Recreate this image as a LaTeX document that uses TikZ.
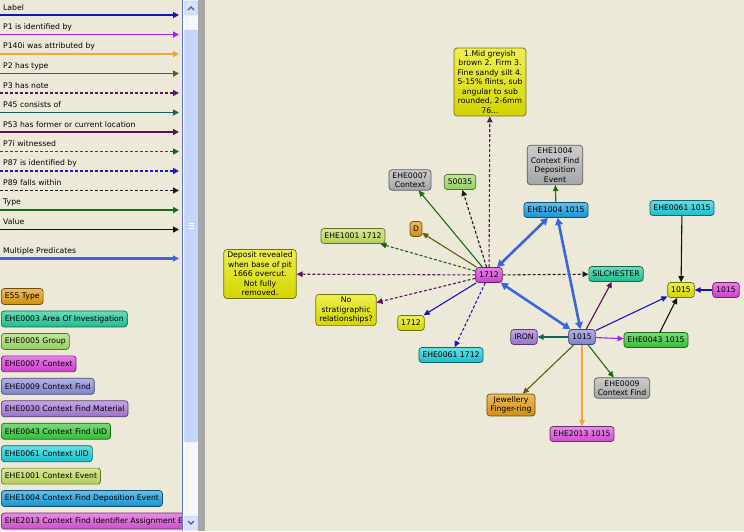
\documentclass[tikz,border=0pt]{standalone}
\usepackage{fontspec}
\setmainfont{DejaVu Sans}
\usepackage{tikz}
\usetikzlibrary{arrows.meta}

\definecolor{canvas}{HTML}{ECE9D8}
\definecolor{cStrip}{HTML}{A6A6A6}
\definecolor{cBorder}{HTML}{6678C8}
\definecolor{cTrack}{HTML}{F6F7FC}
\definecolor{cThumb}{HTML}{C4D6FC}
\definecolor{cThumbB}{HTML}{A9C0F2}
\definecolor{cChev}{HTML}{4D6185}
% predicates
\definecolor{cLabel}{HTML}{1616B8}
\definecolor{cP1}{HTML}{A424EE}
\definecolor{cP140}{HTML}{F2A638}
\definecolor{cP2}{HTML}{5E5E12}
\definecolor{cP3}{HTML}{5C1460}
\definecolor{cP45}{HTML}{126460}
\definecolor{cP53}{HTML}{5A124E}
\definecolor{cP7}{HTML}{146614}
\definecolor{cP87}{HTML}{1A1AC8}
\definecolor{cP89}{HTML}{1C1C1C}
\definecolor{cType}{HTML}{157015}
\definecolor{cValue}{HTML}{121212}
\definecolor{cMulti}{HTML}{3C64DE}
% classes
\definecolor{cE55}{HTML}{E39B12}
\definecolor{cE03}{HTML}{22CC99}
\definecolor{cE05}{HTML}{A4DE6A}
\definecolor{cE07}{HTML}{DD44DD}
\definecolor{cE09}{HTML}{8C8CDC}
\definecolor{cE30}{HTML}{A97ADB}
\definecolor{cE43}{HTML}{3ACC3A}
\definecolor{cE61}{HTML}{1CCFDC}
\definecolor{cE1001}{HTML}{C4DE62}
\definecolor{cE1004}{HTML}{1AA0E0}
\definecolor{cE2013}{HTML}{DD55DD}
\definecolor{cVal}{HTML}{E6E600}
\definecolor{cGray}{HTML}{B4B4B4}

\tikzset{
  txt/.style={font=\fontsize{7.7}{9.5}\selectfont},
  box/.style={txt, rounded corners=3pt, draw=#1!50!black, line width=0.7pt,
    top color=#1!68!white, bottom color=#1!92!black,
    inner xsep=3.5pt, inner ysep=2.5pt, minimum height=15pt, align=center},
  rel/.style={draw=#1, line width=1.1pt, -{Triangle[length=6pt,width=5.5pt]}},
  dsh/.style={dash pattern=on 3pt off 2pt},
  multi/.style={draw=cMulti, line width=2.6pt,
    {Triangle[length=7pt,width=7.5pt]}-{Triangle[length=7pt,width=7.5pt]}},
  lgline/.style={draw=#1, line width=1.5pt, -{Triangle[length=6pt,width=6pt]}},
}

\begin{document}
\begin{tikzpicture}[x=1pt, y=-1pt]
        \useasboundingbox (0,0) rectangle (744,531);
        \fill[canvas] (0,0) rectangle (744,531);

        % Legend of predicates
        \foreach \t/\c/\s [count=\i] in {Label/cLabel/solid, P1 is identified by/cP1/solid,
            P140i was attributed by/cP140/solid, P2 has type/cP2/solid, P3 has note/cP3/dsh,
            P45 consists of/cP45/solid, P53 has former or current location/cP53/solid,
            P7i witnessed/cP7/dsh, P87 is identified by/cP87/dsh, P89 falls within/cP89/dsh,
            Type/cType/solid, Value/cValue/solid} {
            \pgfmathsetmacro\ly{15+19.5*(\i-1)}
            \node[txt, anchor=west, inner sep=1pt] (lt\i) at (2,\ly-7.5) {\t};
            \draw[lgline=\c, \s] (0,\ly) -- (179,\ly);
        }
        \node[txt, anchor=west, inner sep=1pt] (ltm) at (2,251) {Multiple Predicates};
        \draw[lgline=cMulti, line width=2.2pt] (0,258.5) -- (179,258.5);

        % Legend of classes
        \begin{scope}
            \clip (0,280) rectangle (182,531);
            \foreach \t/\c [count=\i] in {E55 Type/cE55, EHE0003 Area Of Investigation/cE03,
                EHE0005 Group/cE05, EHE0007 Context/cE07, EHE0009 Context Find/cE09,
                EHE0030 Context Find Material/cE30, EHE0043 Context Find UID/cE43,
                EHE0061 Context UID/cE61, EHE1001 Context Event/cE1001,
                EHE1004 Context Find Deposition Event/cE1004,
                EHE2013 Context Find Identifier Assignment Event/cE2013}
                \node[box=\c, anchor=west, minimum height=16pt] (lc\i) at (1,{296.5+22.45*(\i-1)}) {\t};
        \end{scope}

        % Scroll bar
        \fill[cTrack] (183,0) rectangle (198,531);
        \draw[cBorder, line width=1pt] (182.5,0) -- (182.5,531);
        \fill[cStrip] (198,0) rectangle (205,531);
        \draw[fill=cThumb, draw=cThumbB, rounded corners=2pt] (184.5,30) rectangle (197.5,442);
        \foreach \g in {223,225.5,228} \draw[white, line width=0.8pt] (188.5,\g) -- (193.5,\g);
        \draw[fill=cThumb!70!white, draw=cThumbB, rounded corners=2pt] (184.5,1) rectangle (197.5,15);
        \draw[fill=cThumb!70!white, draw=cThumbB, rounded corners=2pt] (184.5,516) rectangle (197.5,530);
        \draw[cChev, line width=1.1pt] (188,10) -- (191,7) -- (194,10);
        \draw[cChev, line width=1.1pt] (188,521) -- (191,524) -- (194,521);

        % Nodes around 1712
        \node[box=cVal] (note) at (490,82) {1.Mid greyish\\brown 2. Firm 3.\\Fine sandy silt 4.\\5-15\% flints, sub\\angular to sub\\rounded, 2-6mm\\76...};
        \node[box=cVal] (dep) at (260,274) {Deposit revealed\\when base of pit\\1666 overcut.\\Not fully\\removed.};
        \node[box=cVal] (nostrat) at (346,310) {No\\stratigraphic\\relationships?};
        \node[box=cGray] (ctx7) at (410,180) {EHE0007\\Context};
        \node[box=cE05] (g50035) at (460,182) {50035};
        \node[box=cE55, inner xsep=3pt] (dD) at (416,229) {D};
        \node[box=cE1001] (ev1712) at (353,236) {EHE1001 1712};
        \node[box=cE07] (c1712) at (489,275) {1712};
        \node[box=cVal] (v1712) at (411,323) {1712};
        \node[box=cE61] (u1712) at (451,355) {EHE0061 1712};

        % Nodes around 1015
        \node[box=cGray] (fdtype) at (555,165) {EHE1004\\Context Find\\Deposition\\Event};
        \node[box=cE1004] (fd1015) at (556,210) {EHE1004 1015};
        \node[box=cE61] (uid1015) at (682,208) {EHE0061 1015};
        \node[box=cE03] (silc) at (616,274) {SILCHESTER};
        \node[box=cVal] (v1015) at (681,290) {1015};
        \node[box=cE07] (m1015) at (726,290) {1015};
        \node[box=cE09] (f1015) at (582,337) {1015};
        \node[box=cE30] (iron) at (524,337) {IRON};
        \node[box=cE43] (fu1015) at (656,340) {EHE0043 1015};
        \node[box=cGray] (cf9) at (622,388) {EHE0009\\Context Find};
        \node[box=cE55] (jew) at (511,405) {Jewellery\\Finger-ring};
        \node[box=cE2013] (as1015) at (582,434) {EHE2013 1015};

        % Edges from 1712
        \draw[rel=cP3, dsh] (c1712) -- (note);
        \draw[rel=cType] (c1712) -- (ctx7);
        \draw[rel=cP89, dsh] (c1712) -- (g50035);
        \draw[rel=cP2] (c1712) -- (dD);
        \draw[rel=cP7, dsh] (c1712) -- (ev1712);
        \draw[rel=cP3, dsh] (c1712) -- (dep);
        \draw[rel=cP3, dsh] (c1712) -- (nostrat);
        \draw[rel=cLabel] (c1712) -- (v1712);
        \draw[rel=cP87, dsh] (c1712) -- (u1712);
        \draw[rel=cP89, dsh] (c1712) -- (silc);

        % Multiple predicates
        \draw[multi] (fd1015) -- (c1712);
        \draw[multi] (f1015) -- (c1712);
        \draw[multi] (f1015) -- (fd1015);

        % Edges from 1015
        \draw[rel=cType] (fd1015) -- (fdtype);
        \draw[rel=cP53] (f1015) -- (silc);
        \draw[rel=cLabel] (f1015) -- (v1015);
        \draw[rel=cP1] (f1015) -- (fu1015);
        \draw[rel=cP45] (f1015) -- (iron);
        \draw[rel=cP2] (f1015) -- (jew);
        \draw[rel=cP140] (f1015) -- (as1015);
        \draw[rel=cType] (f1015) -- (cf9);
        \draw[rel=cValue] (uid1015) -- (v1015);
        \draw[rel=cValue] (fu1015) -- (v1015);
        \draw[rel=cLabel] (m1015) -- (v1015);
\end{tikzpicture}
\end{document}
